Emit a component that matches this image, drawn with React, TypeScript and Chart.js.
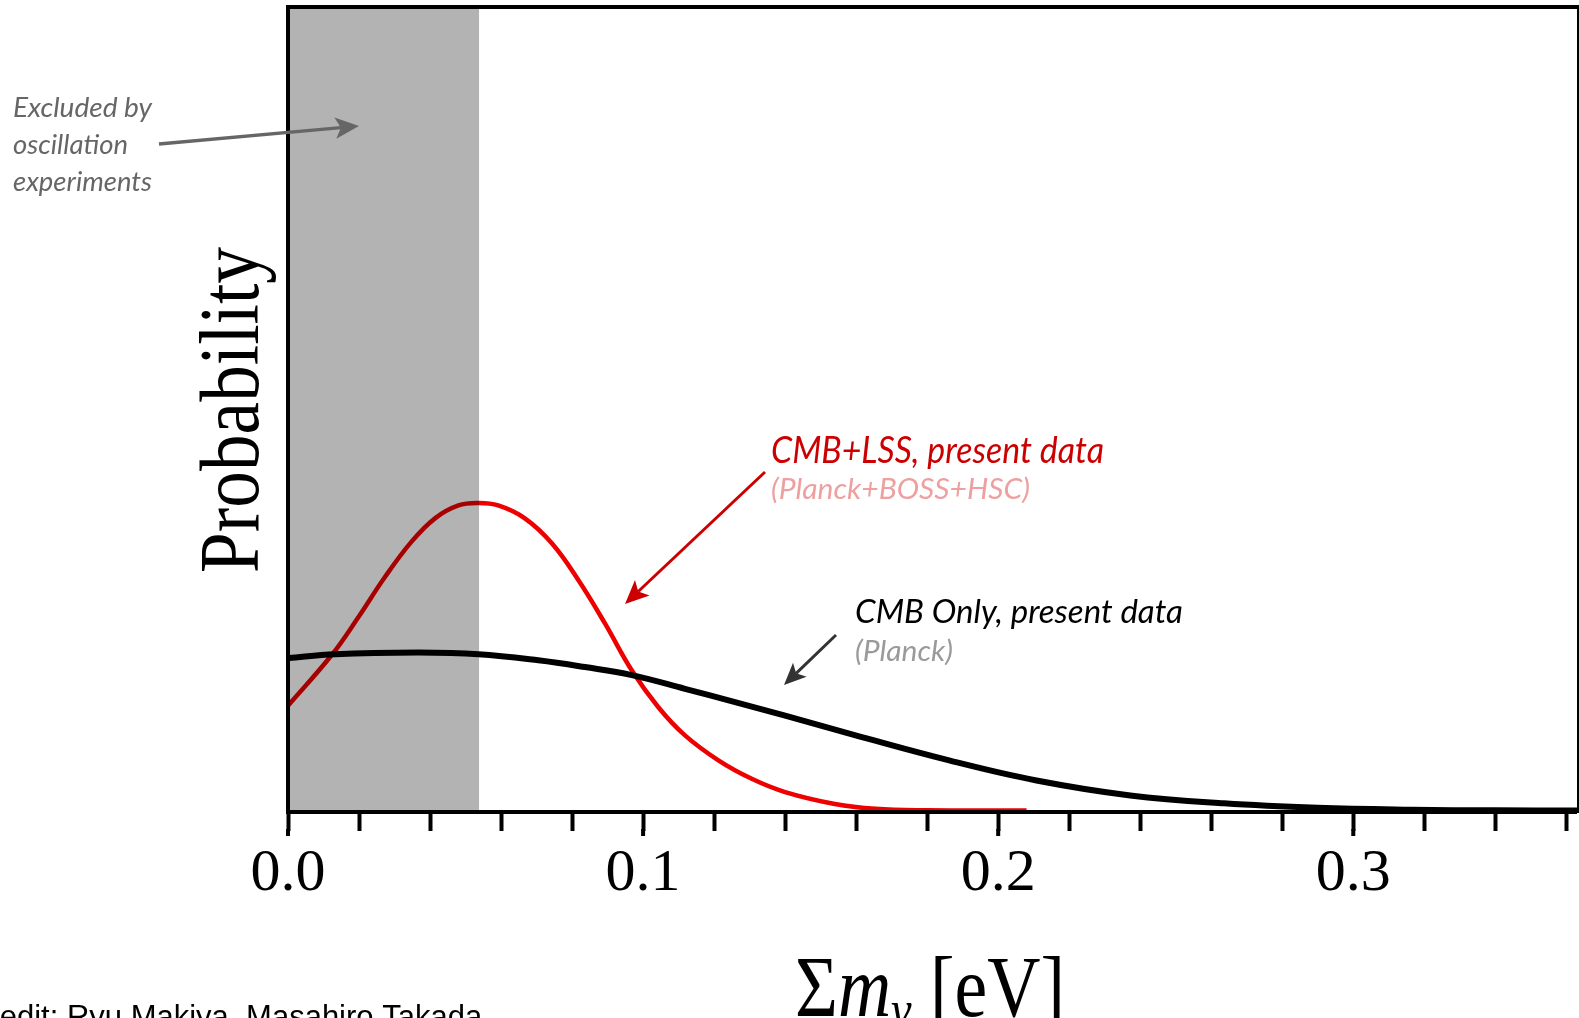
import React, { useEffect, useRef } from "react";
import { Chart, registerables } from "chart.js";

Chart.register(...registerables);

// ---- Data ----
// Sum of neutrino masses [eV]
const X_MAX = 0.363;
const EXCLUDED_MAX = 0.0538; // excluded by oscillation experiments
const MAJOR_TICKS = [0.0, 0.1, 0.2, 0.3];
const TICK_STEP = 0.02;

// CMB+LSS (Planck+BOSS+HSC) posterior
const massCmbLss = [0, 0.0123, 0.0198, 0.0273, 0.0348, 0.0414, 0.048, 0.0536, 0.0592, 0.0667, 0.0743, 0.0818, 0.0893, 0.0968, 0.1043, 0.1118, 0.1212, 0.1306, 0.14, 0.154, 0.1654, 0.18, 0.208];
const probCmbLss = [0.131, 0.194, 0.241, 0.291, 0.335, 0.364, 0.38, 0.383, 0.38, 0.364, 0.333, 0.287, 0.233, 0.175, 0.129, 0.094, 0.063, 0.04, 0.0235, 0.0087, 0.0027, 0.0009, 0.0006];

// CMB only (Planck) posterior
const massCmb = [0, 0.0132, 0.0367, 0.0536, 0.0705, 0.0836, 0.0968, 0.1118, 0.1259, 0.14, 0.1616, 0.1862, 0.2108, 0.2372, 0.2636, 0.29, 0.3163, 0.34, 0.363];
const probCmb = [0.19, 0.195, 0.197, 0.195, 0.1874, 0.179, 0.169, 0.152, 0.1355, 0.1185, 0.092, 0.063, 0.038, 0.0194, 0.0095, 0.004, 0.0016, 0.0008, 0.0005];

const isMajor = (v: number) => MAJOR_TICKS.some((m) => Math.abs(m - v) < 1e-6);

function fitText(ctx: CanvasRenderingContext2D, text: string, x: number, baseline: number, font: string, color: string, width: number) {
  ctx.save();
  ctx.font = font;
  ctx.fillStyle = color;
  ctx.textAlign = "left";
  ctx.textBaseline = "alphabetic";
  const w = ctx.measureText(text).width;
  ctx.translate(x, baseline);
  ctx.scale(width / w, 1);
  ctx.fillText(text, 0, 0);
  ctx.restore();
}

function arrow(ctx: CanvasRenderingContext2D, x1: number, y1: number, x2: number, y2: number, color: string, w: number, headLen: number) {
  const a = Math.atan2(y2 - y1, x2 - x1);
  const nx = x2 - Math.cos(a) * headLen * 0.7;
  const ny = y2 - Math.sin(a) * headLen * 0.7;
  const spread = 0.42;
  ctx.save();
  ctx.strokeStyle = color;
  ctx.fillStyle = color;
  ctx.lineWidth = w;
  ctx.beginPath();
  ctx.moveTo(x1, y1);
  ctx.lineTo(nx, ny);
  ctx.stroke();
  ctx.beginPath();
  ctx.moveTo(x2, y2);
  ctx.lineTo(x2 - headLen * Math.cos(a - spread), y2 - headLen * Math.sin(a - spread));
  ctx.lineTo(nx, ny);
  ctx.lineTo(x2 - headLen * Math.cos(a + spread), y2 - headLen * Math.sin(a + spread));
  ctx.closePath();
  ctx.fill();
  ctx.restore();
}

const decorPlugin = {
  id: "decor",
  beforeDatasetsDraw(chart: any) {
    const { ctx, chartArea } = chart;
    const xs = chart.scales.x;
    const x0 = xs.getPixelForValue(0);
    const x1 = xs.getPixelForValue(EXCLUDED_MAX);
    ctx.save();
    ctx.fillStyle = "#b3b3b3";
    ctx.fillRect(x0, chartArea.top, x1 - x0, chartArea.bottom - chartArea.top);
    ctx.restore();
  },
  beforeDatasetDraw(chart: any, args: any) {
    chart.ctx.save();
    if (args.index === 1) chart.ctx.globalCompositeOperation = "multiply";
  },
  afterDatasetDraw(chart: any) {
    chart.ctx.restore();
  },
  afterDraw(chart: any) {
    const { ctx, chartArea } = chart;
    const { left, right, top, bottom } = chartArea;
    const xs = chart.scales.x;
    ctx.save();
    // frame
    ctx.fillStyle = "#000";
    ctx.fillRect(left - 2, top - 2, 4, bottom - top + 4);
    ctx.fillRect(left - 2, top - 2, right - left + 2, 4);
    ctx.fillRect(left - 2, bottom - 1, right - left + 2, 4);
    ctx.fillRect(right, top - 2, 2, bottom - top + 4);
    // longer major ticks
    MAJOR_TICKS.forEach((v) => {
      const px = xs.getPixelForValue(v);
      ctx.fillRect(px - 2, bottom + 18, 4, 7);
    });
    ctx.restore();

    // Y title
    ctx.save();
    ctx.translate(258, 410);
    ctx.rotate(-Math.PI / 2);
    ctx.font = '84px "Liberation Serif"';
    ctx.fillStyle = "#000";
    ctx.textAlign = "center";
    ctx.textBaseline = "alphabetic";
    const pw = ctx.measureText("Probability").width;
    ctx.scale(326 / pw, 1);
    ctx.fillText("Probability", 0, 0);
    ctx.restore();

    // X title  Σm_ν [eV]
    ctx.save();
    ctx.fillStyle = "#000";
    ctx.textBaseline = "alphabetic";
    ctx.textAlign = "left";
    const parts = [
      { t: "\u03A3", f: '86px "Liberation Serif"', dy: 0 },
      { t: "m", f: 'italic 86px "Liberation Serif"', dy: 0 },
      { t: "\u03BD", f: 'italic 54px "Liberation Serif"', dy: 12 },
      { t: " [eV]", f: '86px "Liberation Serif"', dy: 0 },
    ];
    let total = 0;
    const widths = parts.map((p) => {
      ctx.font = p.f;
      const w = ctx.measureText(p.t).width;
      total += w;
      return w;
    });
    ctx.translate(795, 1016);
    ctx.scale(270 / total, 1);
    let cx = 0;
    parts.forEach((p, i) => {
      ctx.font = p.f;
      ctx.fillText(p.t, cx, p.dy);
      cx += widths[i];
    });
    ctx.restore();

    // credit
    ctx.save();
    ctx.font = '31px "Liberation Sans"';
    ctx.fillStyle = "#000";
    ctx.textBaseline = "alphabetic";
    ctx.fillText("Credit: Ryu Makiya, Masahiro Takada", -33, 1027);
    ctx.restore();

    // annotations
    const hand = (s: number) => `italic ${s}px Lato`;
    fitText(ctx, "Excluded by", 13, 117, hand(27), "#666666", 139);
    fitText(ctx, "oscillation", 13, 154, hand(27), "#666666", 115);
    fitText(ctx, "experiments", 13, 191, hand(27), "#666666", 139);
    arrow(ctx, 159, 144, 359, 126, "#666666", 3.5, 26);

    fitText(ctx, "CMB+LSS, present data", 771, 463, hand(37), "#cc0000", 333);
    fitText(ctx, "(Planck+BOSS+HSC)", 771, 499, hand(28), "#ee9f9f", 259);
    arrow(ctx, 765, 472, 625, 604, "#cc0000", 3, 26);

    fitText(ctx, "CMB Only, present data", 855, 623, hand(33), "#000000", 328);
    fitText(ctx, "(Planck)", 855, 661, hand(28), "#9a9a9a", 98);
    arrow(ctx, 836, 635, 784, 685, "#333333", 3, 24);
  },
};

export default function App() {
  const ref = useRef<HTMLCanvasElement | null>(null);

  useEffect(() => {
    const canvas = ref.current;
    if (!canvas) return;
    const chart = new Chart(canvas, {
      type: "line",
      data: {
        datasets: [
          {
            label: "CMB Only, present data (Planck)",
            data: massCmb.map((x, i) => ({ x, y: probCmb[i] })),
            borderColor: "#000000",
            borderWidth: 6,
            pointRadius: 0,
            tension: 0.4,
            fill: false,
            order: 2,
          },
          {
            label: "CMB+LSS, present data (Planck+BOSS+HSC)",
            data: massCmbLss.map((x, i) => ({ x, y: probCmbLss[i] })),
            borderColor: "#ee0000",
            borderWidth: 4.5,
            pointRadius: 0,
            tension: 0.4,
            fill: false,
            order: 1,
          },
        ],
      },
      options: {
        animation: false,
        responsive: false,
        devicePixelRatio: 1,
        layout: { padding: { left: 288, top: 7, right: 2, bottom: 0 } },
        plugins: { legend: { display: false }, tooltip: { enabled: false } },
        scales: {
          x: {
            type: "linear",
            min: 0,
            max: X_MAX,
            afterFit: (s: any) => {
              s.height = 207;
            },
            border: { display: false },
            grid: { drawOnChartArea: false, drawTicks: true, tickLength: 20, tickWidth: 4, tickColor: "#000" },
            ticks: {
              stepSize: TICK_STEP,
              autoSkip: false,
              includeBounds: false,
              maxRotation: 0,
              minRotation: 0,
              padding: 7,
              color: "#000",
              font: { family: "Liberation Serif", size: 60 },
              callback: (v: any) => (isMajor(Number(v)) ? Number(v).toFixed(1) : ""),
            },
          },
          y: { display: false, min: 0, max: 1 },
        },
      },
      plugins: [decorPlugin],
    } as any);
    return () => chart.destroy();
  }, []);

  return (
    <canvas
      ref={ref}
      width={1579}
      height={1018}
      style={{ position: "fixed", left: 0, top: 0, width: 1579, height: 1018, display: "block", background: "#fff" }}
    />
  );
}
